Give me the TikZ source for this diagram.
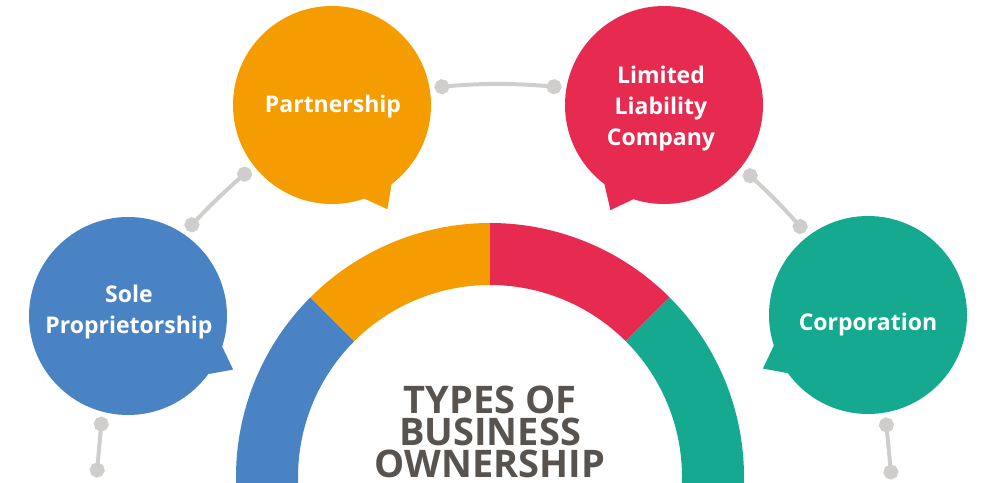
\documentclass[tikz,border=0pt]{standalone}
\usepackage{fontspec}
\setmainfont{Open Sans}
\usetikzlibrary{arrows.meta,calc}
\definecolor{soleblue}{HTML}{4A83C4}
\definecolor{partorange}{HTML}{F59D00}
\definecolor{llcred}{HTML}{E72B50}
\definecolor{corpteal}{HTML}{15AA8F}
\definecolor{linkgray}{HTML}{CFCECC}
\definecolor{titlegray}{HTML}{58534F}

\begin{document}
\begin{tikzpicture}[x=1pt,y=1pt,
    bubble/.style={circle,minimum size=198pt,inner sep=0pt,outer sep=0pt},
    bubbletext/.style={text=white,font=\fontsize{23}{31}\selectfont\bfseries,align=center,inner sep=0pt,anchor=north},
    link/.style={linkgray,line width=4pt,{Circle[length=15pt]}-{Circle[length=15pt]},shorten <=5pt,shorten >=5pt}]
      \clip (0,0) rectangle (1000,482);

      % half ring
      \begin{scope}[shift={(490,5)}]
        \foreach \a/\b/\c in {188/135/soleblue,135/90/partorange,90/45/llcred,45/-8/corpteal}
          \fill[\c] (\a:254) arc[start angle=\a,end angle=\b,radius=254] -- (\b:192) arc[start angle=\b,end angle=\a,radius=192] -- cycle;
      \end{scope}

      \node[font=\fontsize{38}{32}\selectfont\bfseries,text=titlegray,align=center,inner sep=0pt,anchor=north] (title) at (490,96) {TYPES OF\\BUSINESS\\OWNERSHIP};

      % bubbles
      \node[bubble,fill=soleblue] (sole) at (128,166) {};
      \node[bubble,fill=partorange] (partner) at (332,377) {};
      \node[bubble,fill=llcred] (llc) at (664,377) {};
      \node[bubble,fill=corpteal] (corp) at (868,167) {};

      \fill[soleblue] (sole.-18) -- ($(sole.center)+(-27:118)$) -- (sole.-36) -- cycle;
      \fill[partorange] (partner.-53) -- ($(partner.center)+(-62:118)$) -- (partner.-71) -- cycle;
      \fill[llcred] (llc.-108) -- ($(llc.center)+(-117:118)$) -- (llc.-127) -- cycle;
      \fill[corpteal] (corp.198) -- ($(corp.center)+(207:118)$) -- (corp.216) -- cycle;

      \node[bubbletext] (soletext) at (129,197) {Sole\\Proprietorship};
      \node[bubbletext] (partnertext) at (333,387) {Partnership};
      \node[bubbletext] (llctext) at (661,416) {Limited\\Liability\\Company};
      \node[bubbletext] (corptext) at (868,169) {Corporation};

      % connectors
      \coordinate (soleend) at (96.5,4.5);
      \coordinate (corpend) at (891.6,2.5);
      \draw[link] (sole.56) to[bend left=3] (partner.218);
      \draw[link] (partner.10) to[bend left=5] (llc.170);
      \draw[link] (llc.-39) to[bend left=3] (corp.127);
      \draw[link,shorten >=0pt] (sole.255) -- (soleend);
      \draw[link,shorten >=0pt] (corp.-80) -- (corpend);
    \end{tikzpicture}
\end{document}
